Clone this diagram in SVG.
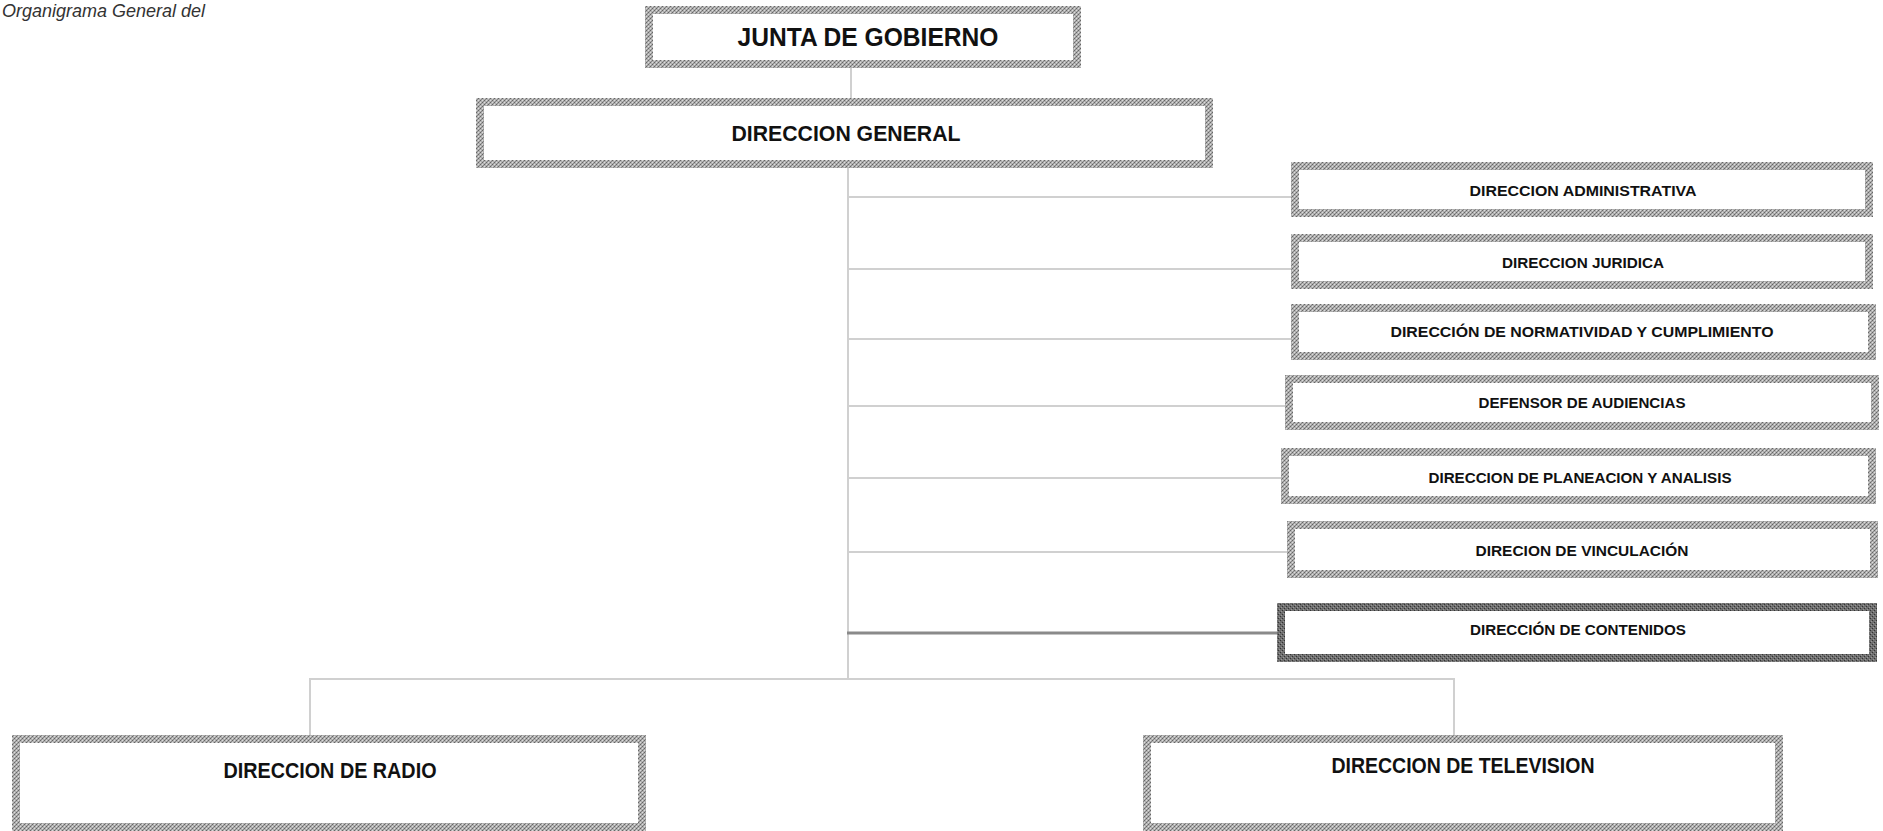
<svg xmlns="http://www.w3.org/2000/svg" width="1883" height="831" viewBox="0 0 1883 831">
<defs>
<pattern id="hatch" width="4" height="4" patternUnits="userSpaceOnUse">
<rect width="4" height="4" fill="#b0b0b0"/>
<rect x="0" y="0" width="1" height="1" fill="#666"/>
<rect x="2" y="2" width="1" height="1" fill="#666"/>
<rect x="1" y="3" width="1" height="1" fill="#888"/>
<rect x="3" y="1" width="1" height="1" fill="#888"/>
<rect x="2" y="0" width="1" height="1" fill="#dcdcdc"/>
<rect x="0" y="2" width="1" height="1" fill="#dcdcdc"/>
</pattern>
<pattern id="hatchDark" width="4" height="4" patternUnits="userSpaceOnUse">
<rect width="4" height="4" fill="#6e6e6e"/>
<rect x="0" y="0" width="1" height="1" fill="#333"/>
<rect x="2" y="2" width="1" height="1" fill="#333"/>
<rect x="1" y="3" width="1" height="1" fill="#999"/>
<rect x="3" y="1" width="1" height="1" fill="#999"/>
</pattern>
</defs>
<style>
.box{fill:#fff;stroke:url(#hatch);stroke-width:8}
.dark{fill:#fff;stroke:url(#hatchDark);stroke-width:8}
.t{font-family:"Liberation Sans",Arial,sans-serif;font-weight:bold;fill:#111;text-anchor:middle;dominant-baseline:central}
.big{font-size:25px}
.mid{font-size:22px}
.sm{font-size:15px}
.ln{stroke:#d0d0d0;stroke-width:2;fill:none}
.lnd{stroke:#8a8a8a;stroke-width:3;fill:none}
.title{font-family:"Liberation Sans",Arial,sans-serif;font-style:italic;font-size:18px;fill:#333}
</style>
<rect width="1883" height="831" fill="#fff"/>
<text class="title" x="2" y="17">Organigrama General del</text>
<g id="connectors">
<line class="ln" x1="851" y1="68" x2="851" y2="98"/>
<line class="ln" x1="848" y1="168" x2="848" y2="680"/>
<line class="ln" x1="848" y1="197" x2="1291" y2="197"/>
<line class="ln" x1="848" y1="269" x2="1291" y2="269"/>
<line class="ln" x1="848" y1="339" x2="1291" y2="339"/>
<line class="ln" x1="848" y1="406" x2="1285" y2="406"/>
<line class="ln" x1="848" y1="478" x2="1281" y2="478"/>
<line class="ln" x1="848" y1="552" x2="1287" y2="552"/>
<line class="lnd" x1="847" y1="633" x2="1277" y2="633"/>
<polyline class="ln" points="310,735 310,679 1454,679 1454,735"/>
</g>
<g id="junta"><rect class="box" x="649" y="10" width="428" height="54"/><text class="t big" x="868" y="37" textLength="261" lengthAdjust="spacingAndGlyphs">JUNTA DE GOBIERNO</text></g>
<g id="general"><rect class="box" x="480" y="102" width="729" height="62"/><text class="t mid" x="846" y="133" textLength="229" lengthAdjust="spacingAndGlyphs">DIRECCION GENERAL</text></g>
<g id="admin"><rect class="box" x="1295" y="166" width="574" height="47"/><text class="t sm" x="1583" y="190" textLength="227" lengthAdjust="spacingAndGlyphs">DIRECCION ADMINISTRATIVA</text></g>
<g id="juridica"><rect class="box" x="1295" y="238" width="574" height="47"/><text class="t sm" x="1583" y="262" textLength="162" lengthAdjust="spacingAndGlyphs">DIRECCION JURIDICA</text></g>
<g id="normatividad"><rect class="box" x="1295" y="308" width="577" height="48"/><text class="t sm" x="1582" y="331" textLength="383" lengthAdjust="spacingAndGlyphs">DIRECCIÓN DE NORMATIVIDAD Y CUMPLIMIENTO</text></g>
<g id="defensor"><rect class="box" x="1289" y="379" width="586" height="47"/><text class="t sm" x="1582" y="402" textLength="207" lengthAdjust="spacingAndGlyphs">DEFENSOR DE AUDIENCIAS</text></g>
<g id="planeacion"><rect class="box" x="1285" y="452" width="587" height="48"/><text class="t sm" x="1580" y="477" textLength="303" lengthAdjust="spacingAndGlyphs">DIRECCION DE PLANEACION Y ANALISIS</text></g>
<g id="vinculacion"><rect class="box" x="1291" y="525" width="583" height="49"/><text class="t sm" x="1582" y="550" textLength="213" lengthAdjust="spacingAndGlyphs">DIRECION DE VINCULACIÓN</text></g>
<g id="contenidos"><rect class="dark" x="1281" y="607" width="592" height="51"/><text class="t sm" x="1578" y="629" textLength="216" lengthAdjust="spacingAndGlyphs">DIRECCIÓN DE CONTENIDOS</text></g>
<g id="radio"><rect class="box" x="16" y="739" width="626" height="88"/><text class="t mid" x="330" y="770" textLength="213" lengthAdjust="spacingAndGlyphs">DIRECCION DE RADIO</text></g>
<g id="television"><rect class="box" x="1147" y="739" width="632" height="88"/><text class="t mid" x="1463" y="765" textLength="263" lengthAdjust="spacingAndGlyphs">DIRECCION DE TELEVISION</text></g>
</svg>
